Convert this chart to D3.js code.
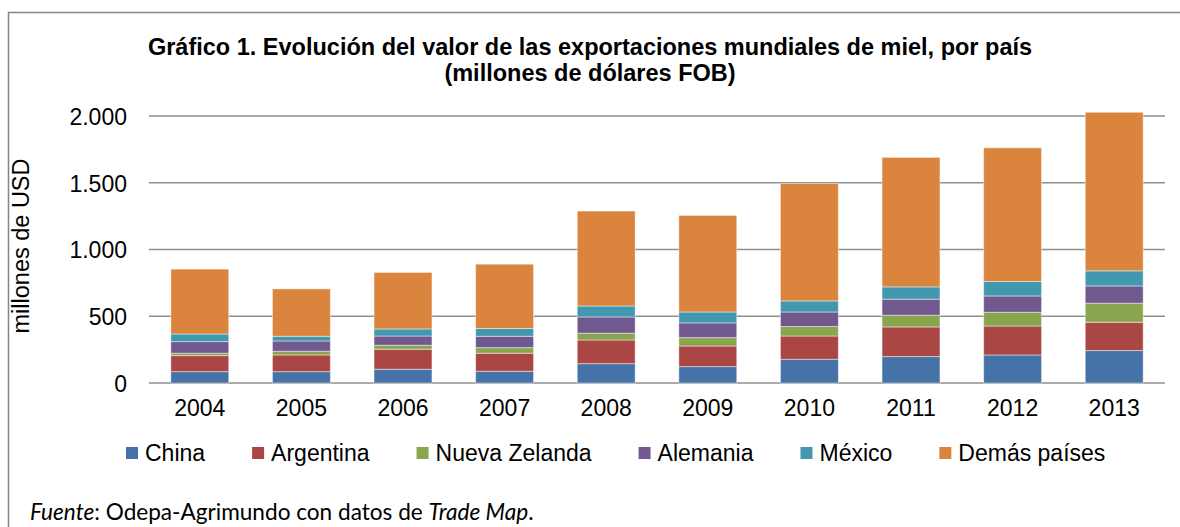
<!DOCTYPE html>
<html>
<head>
<meta charset="utf-8">
<script src="https://cdn.jsdelivr.net/npm/d3@7"></script>
<style>
  body { margin: 0; background: #fff; }
  #chart { width: 1180px; height: 527px; }
  text { font-family: "Liberation Sans", Arial, sans-serif; fill: #000; }
</style>
</head>
<body>
<div id="chart"></div>
<script>
var years = ["2004", "2005", "2006", "2007", "2008", "2009", "2010", "2011", "2012", "2013"]
var countries = ["China", "Argentina", "Nueva Zelanda", "Alemania", "México", "Demás países"]
var colors = ["#4572A7", "#AA4643", "#89A54E", "#71588F", "#4198AF", "#DB843D"]

// millones de USD
var china      = [85, 85, 103, 88, 145, 123, 178, 198, 210, 243]
var argentina  = [120, 125, 150, 135, 177, 154, 174, 222, 217, 212]
var nzelanda   = [18, 28, 30, 42, 51, 63, 71, 88, 103, 143]
var alemania   = [87, 77, 69, 85, 122, 110, 109, 120, 122, 129]
var mexico     = [57, 35, 53, 58, 82, 82, 83, 92, 108, 113]
var demas      = [486, 355, 423, 482, 711, 723, 880, 970, 1002, 1188]

var yTicks = [0, 500, 1000, 1500, 2000]
var yTickLabels = ["0", "500", "1.000", "1.500", "2.000"]

var width = 1180
var height = 527
const margin = {top: 116, bottom: 144, left: 149, right: 15}

var series = [china, argentina, nzelanda, alemania, mexico, demas]
var rows = years.map(function(y, i) {
    var r = {year: y}
    countries.forEach(function(c, k) { r[c] = series[k][i] })
    return r
})

var svg = d3.select("#chart").append("svg")
    .attr("width", width)
    .attr("height", height)
    .attr("display", "block")

// marco
svg.append("path")
    .attr("d", "M8.5," + height + "V12.5H" + width)
    .attr("fill", "none")
    .attr("stroke", "#858585")
    .attr("stroke-width", 1.5)

var xScale = d3.scaleBand()
    .domain(years)
    .range([margin.left, width - margin.right])
    .paddingInner(0.43)
    .paddingOuter(0.215)

var yScale = d3.scaleLinear()
    .domain([0, 2000])
    .range([height - margin.bottom, margin.top])

// grid
svg.append("g")
    .selectAll("line")
    .data(yTicks)
    .join("line")
    .attr("x1", margin.left)
    .attr("x2", width - margin.right)
    .attr("y1", function(d) { return yScale(d) })
    .attr("y2", function(d) { return yScale(d) })
    .attr("stroke", "#8f8f8f")
    .attr("stroke-width", 1.6)

// y axis labels
var yAxis = d3.axisLeft(yScale)
    .tickValues(yTicks)
    .tickFormat(function(d, i) { return yTickLabels[i] })
    .tickSize(0)
    .tickPadding(22)
var yg = svg.append("g")
    .attr("transform", "translate(" + margin.left + ",0)")
    .call(yAxis)
yg.select(".domain").remove()
yg.selectAll("text")
    .attr("font-size", 23)
    .attr("font-family", "Liberation Sans, Arial, sans-serif")
    .attr("dy", "0.36em")

// stacked bars
var stack = d3.stack().keys(countries)
var layers = stack(rows)

svg.append("g")
    .selectAll("g")
    .data(layers)
    .join("g")
    .attr("fill", function(d, i) { return colors[i] })
    .selectAll("rect")
    .data(function(d) { return d })
    .join("rect")
    .attr("x", function(d) { return xScale(d.data.year) })
    .attr("width", xScale.bandwidth())
    .attr("y", function(d) { return yScale(d[1]) })
    .attr("height", function(d) { return yScale(d[0]) - yScale(d[1]) })
    .attr("stroke", "rgba(255,255,255,0.45)")
    .attr("stroke-width", 1)

// x axis labels
var xAxis = d3.axisBottom(xScale).tickSize(0).tickPadding(17)
var xg = svg.append("g")
    .attr("transform", "translate(0," + yScale(0) + ")")
    .call(xAxis)
xg.select(".domain").remove()
xg.selectAll("text")
    .attr("font-size", 23)
    .attr("font-family", "Liberation Sans, Arial, sans-serif")

// titulo
svg.append("text")
    .attr("x", 590)
    .attr("y", 55)
    .attr("text-anchor", "middle")
    .attr("font-size", 23.5)
    .attr("font-weight", "bold")
    .text("Gráfico 1. Evolución del valor de las exportaciones mundiales de miel, por país")
svg.append("text")
    .attr("x", 590)
    .attr("y", 81)
    .attr("text-anchor", "middle")
    .attr("font-size", 23.5)
    .attr("font-weight", "bold")
    .text("(millones de dólares FOB)")

// eje y titulo
svg.append("text")
    .attr("transform", "translate(29," + 246 + ")rotate(-90)")
    .attr("text-anchor", "middle")
    .attr("font-size", 23.5)
    .text("millones de USD")

// leyenda
var legend = svg.append("g").attr("transform", "translate(126,453)")
var lx = 0
countries.forEach(function(c, i) {
    var item = legend.append("g").attr("transform", "translate(" + lx + ",0)")
    item.append("rect")
        .attr("x", 0)
        .attr("y", -6)
        .attr("width", 12)
        .attr("height", 12)
        .attr("fill", colors[i])
    var t = item.append("text")
        .attr("x", 19)
        .attr("y", 0)
        .attr("dy", "0.36em")
        .attr("font-size", 23)
        .text(c)
    lx += 19 + t.node().getComputedTextLength() + 47
})

// fuente
var src = svg.append("text")
    .attr("x", 30)
    .attr("y", 520)
    .attr("font-size", 22.6)
    .style("font-family", "Lato, 'Open Sans', sans-serif")
src.append("tspan").attr("font-style", "italic").text("Fuente")
src.append("tspan").text(": Odepa-Agrimundo con datos de ")
src.append("tspan").attr("font-style", "italic").text("Trade Map")
src.append("tspan").text(".")
</script>
</body>
</html>
